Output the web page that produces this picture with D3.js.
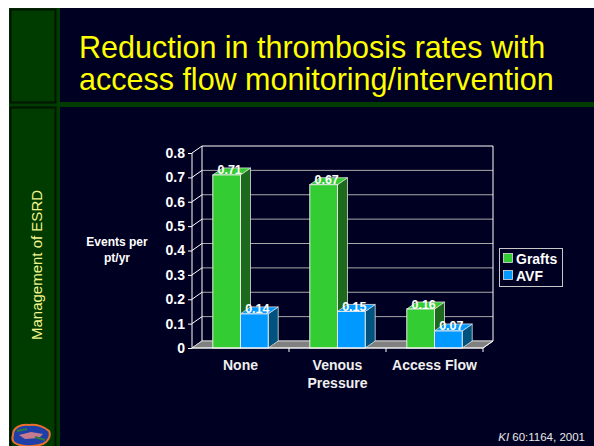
<!DOCTYPE html>
<html>
<head>
<meta charset="utf-8">
<script src="https://cdn.jsdelivr.net/npm/d3@7"></script>
<style>
  body { margin: 0; background: #ffffff; }
  text { font-family: Arial, "Liberation Sans", sans-serif; }
</style>
</head>
<body>
<div id="chart"></div>
<script>
// chart data
var categories = ["None", "Venous Pressure", "Access Flow"];
var categoryLines = [["None"], ["Venous", "Pressure"], ["Access Flow"]];
var seriesNames = ["Grafts", "AVF"];
var grafts = [0.71, 0.67, 0.16];
var avf = [0.14, 0.15, 0.07];
var yTicks = [0, 0.1, 0.2, 0.3, 0.4, 0.5, 0.6, 0.7, 0.8];

var colors = {
  Grafts: {front: "#33cc33", side: "#1d6a1d", top: "#33cc33"},
  AVF: {front: "#0099ff", side: "#00527f", top: "#0099ff"}
};

var svgWidth = 594, svgHeight = 446;
var svg = d3.select("#chart").append("svg")
  .attr("width", svgWidth)
  .attr("height", svgHeight);

// slide background
svg.append("rect").attr("x", 9).attr("y", 8).attr("width", svgWidth - 9).attr("height", svgHeight - 8)
  .attr("fill", "#000022");
svg.append("rect").attr("x", 9).attr("y", 8).attr("width", 51).attr("height", svgHeight - 8)
  .attr("fill", "#003c00");
svg.append("rect").attr("x", 9).attr("y", 102).attr("width", svgWidth - 9).attr("height", 5)
  .attr("fill", "#003c00");
svg.append("rect").attr("x", 10.5).attr("y", 9.5).attr("width", 45).attr("height", 93)
  .attr("fill", "none").attr("stroke", "#001400").attr("stroke-width", 2);
svg.append("rect").attr("x", 10.5).attr("y", 107.5).attr("width", 45).attr("height", 345)
  .attr("fill", "none").attr("stroke", "#001400").attr("stroke-width", 2);

// title
var title = svg.append("text")
  .attr("fill", "#ffff00")
  .style("font-size", "30.5px");
title.append("tspan").attr("x", 79).attr("y", 58).text("Reduction in thrombosis rates with");
title.append("tspan").attr("x", 79).attr("y", 90).text("access flow monitoring/intervention");

// side label
svg.append("text")
  .attr("transform", "translate(42,265) rotate(-90)")
  .attr("text-anchor", "middle")
  .attr("fill", "#f4f48c")
  .style("font-size", "15px")
  .text("Management of ESRD");

// little gator logo
var logo = svg.append("g").attr("transform", "translate(11,423)");
logo.append("path")
  .attr("d", "M2,12 C2,4 10,1 18,2 C26,1 34,4 38,8 C40,12 38,18 32,21 C24,24 10,24 4,20 C1,18 1,15 2,12 Z")
  .attr("fill", "#1f3fa8").attr("stroke", "#e8702a").attr("stroke-width", 2);
logo.append("path")
  .attr("d", "M8,12 L20,9 L32,11 L28,15 L14,16 Z")
  .attr("fill", "#c87a90");
logo.append("path")
  .attr("d", "M6,8 L16,6 M24,14 L34,17")
  .attr("stroke", "#2d7a3a").attr("stroke-width", 2);

// citation
var cite = svg.append("text")
  .attr("x", 585).attr("y", 441)
  .attr("text-anchor", "end")
  .attr("fill", "#e8e8e8")
  .style("font-size", "11.5px");
cite.append("tspan").style("font-style", "italic").text("KI");
cite.append("tspan").text(" 60:1164, 2001");

// scales
var x0 = 192, x1 = 483, depthX = 10, depthY = -7;
var x = d3.scaleBand().domain(categories).range([x0, x1]).paddingInner(0).paddingOuter(0);
var xs = d3.scaleBand().domain(seriesNames).range([0, x.bandwidth()]).paddingInner(0).paddingOuter(0.75);
var y = d3.scaleLinear().domain([0, 0.8]).range([348, 153]);

var chart = svg.append("g");

// back wall gridlines and side wall diagonals
yTicks.forEach(function(t) {
  var top = t === 0.8;
  chart.append("line")
    .attr("x1", x0 + depthX).attr("x2", x1 + depthX)
    .attr("y1", y(t) + depthY).attr("y2", y(t) + depthY)
    .attr("stroke", top ? "#ffffff" : "#a8a8a8").attr("stroke-width", 1);
  chart.append("line")
    .attr("x1", x0).attr("x2", x0 + depthX)
    .attr("y1", y(t)).attr("y2", y(t) + depthY)
    .attr("stroke", "#ffffff").attr("stroke-width", 1);
});
chart.append("line")
  .attr("x1", x0 + depthX).attr("x2", x0 + depthX)
  .attr("y1", y(0.8) + depthY).attr("y2", y(0) + depthY)
  .attr("stroke", "#ffffff");
chart.append("line")
  .attr("x1", x1 + depthX).attr("x2", x1 + depthX)
  .attr("y1", y(0.8) + depthY).attr("y2", y(0) + depthY)
  .attr("stroke", "#ffffff");

// floor
chart.append("path")
  .attr("d", "M" + x0 + "," + y(0) + "L" + x1 + "," + y(0) +
    "L" + (x1 + depthX) + "," + (y(0) + depthY) + "L" + (x0 + depthX) + "," + (y(0) + depthY) + "Z")
  .attr("fill", "#808080").attr("stroke", "#d0d0d0").attr("stroke-width", 1);

// bars
var rows = [];
categories.forEach(function(c, i) {
  rows.push({cat: c, series: "Grafts", value: grafts[i]});
  rows.push({cat: c, series: "AVF", value: avf[i]});
});

var bars = chart.selectAll(".bar").data(rows).join("g").attr("class", "bar");
bars.each(function(d) {
  var g = d3.select(this);
  var left = x(d.cat) + xs(d.series);
  var right = left + xs.bandwidth();
  var top = y(d.value), base = y(0);
  var c = colors[d.series];
  // side face
  g.append("path")
    .attr("d", "M" + right + "," + base + "L" + right + "," + top +
      "L" + (right + depthX) + "," + (top + depthY) + "L" + (right + depthX) + "," + (base + depthY) + "Z")
    .attr("fill", c.side).attr("stroke", "#e0e0e0").attr("stroke-width", 0.8);
  // top face
  g.append("path")
    .attr("d", "M" + left + "," + top + "L" + right + "," + top +
      "L" + (right + depthX) + "," + (top + depthY) + "L" + (left + depthX) + "," + (top + depthY) + "Z")
    .attr("fill", c.top).attr("stroke", "#e0e0e0").attr("stroke-width", 0.8);
  // front face
  g.append("rect")
    .attr("x", left).attr("y", top)
    .attr("width", xs.bandwidth()).attr("height", base - top)
    .attr("fill", c.front).attr("stroke", "#e8e8e8").attr("stroke-width", 1);
});

// value labels
chart.selectAll(".val").data(rows).join("text")
  .attr("class", "val")
  .attr("x", function(d) { return x(d.cat) + xs(d.series) + xs.bandwidth() / 2 + 3; })
  .attr("y", function(d) { return y(d.value) - 0.5; })
  .attr("text-anchor", "middle")
  .attr("fill", "#ffffff")
  .style("font-size", "12.5px").style("font-weight", "bold")
  .text(function(d) { return d3.format(".2f")(d.value); });

// y axis
var yAxis = svg.append("g")
  .attr("transform", "translate(" + x0 + ",0)")
  .call(d3.axisLeft(y).tickValues(yTicks).tickSize(4).tickPadding(3)
    .tickFormat(function(d) { return d === 0 ? "0" : d3.format(".1f")(d); }));
yAxis.select(".domain").attr("stroke", "#ffffff").attr("d", "M0," + y(0.8) + "V" + y(0));
yAxis.selectAll(".tick line").attr("stroke", "#ffffff");
yAxis.selectAll(".tick text")
  .attr("fill", "#ffffff")
  .style("font-size", "14px").style("font-weight", "bold")
  .style("font-family", "Arial, 'Liberation Sans', sans-serif");

// x axis with ticks at category edges
svg.append("line")
  .attr("x1", x0).attr("x2", x1).attr("y1", y(0)).attr("y2", y(0))
  .attr("stroke", "#ffffff");
svg.append("line")
  .attr("x1", x1).attr("x2", x1 + depthX).attr("y1", y(0)).attr("y2", y(0) + depthY)
  .attr("stroke", "#ffffff");
categories.forEach(function(c) {
  var edge = x(c) + x.bandwidth();
  svg.append("line")
    .attr("x1", edge).attr("x2", edge).attr("y1", y(0)).attr("y2", y(0) + 4)
    .attr("stroke", "#ffffff");
});
svg.selectAll(".xlab").data(categories).join("text")
  .attr("class", "xlab")
  .attr("text-anchor", "middle")
  .attr("fill", "#f0f0f0")
  .style("font-size", "14px").style("font-weight", "bold")
  .each(function(c, i) {
    var t = d3.select(this);
    categoryLines[i].forEach(function(line, k) {
      t.append("tspan")
        .attr("x", x(c) + x.bandwidth() / 2)
        .attr("y", 370 + k * 18)
        .text(line);
    });
  });

// y axis title
var yTitle = svg.append("text")
  .attr("text-anchor", "middle")
  .attr("fill", "#ffffff")
  .style("font-size", "12px").style("font-weight", "bold");
yTitle.append("tspan").attr("x", 117).attr("y", 246).text("Events per");
yTitle.append("tspan").attr("x", 117).attr("y", 262).text("pt/yr");

// legend
var legend = svg.append("g");
legend.append("rect")
  .attr("x", 499.5).attr("y", 248.5).attr("width", 63).attr("height", 38)
  .attr("fill", "none").attr("stroke", "#c8c8c8");
seriesNames.forEach(function(s, i) {
  legend.append("rect")
    .attr("x", 503.5).attr("y", 253.5 + i * 17).attr("width", 9).attr("height", 9)
    .attr("fill", colors[s].front).attr("stroke", "#e0e0e0").attr("stroke-width", 0.8);
  legend.append("text")
    .attr("x", 516).attr("y", 264 + i * 17)
    .attr("fill", "#ffffff")
    .style("font-size", "14px").style("font-weight", "bold")
    .text(s);
});
</script>
</body>
</html>
